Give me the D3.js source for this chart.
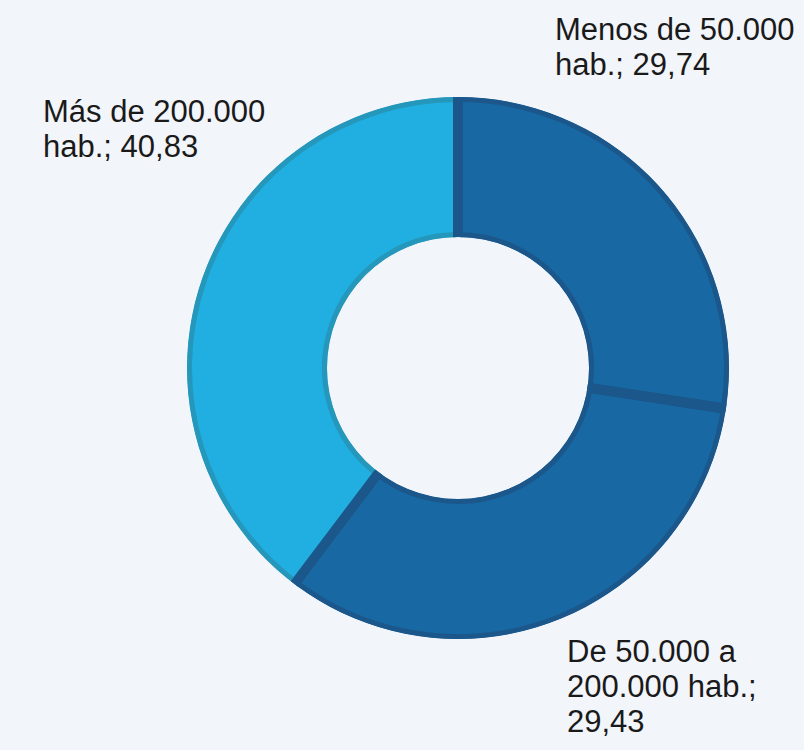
<!DOCTYPE html>
<html>
<head>
<meta charset="utf-8">
<script src="https://cdn.jsdelivr.net/npm/d3@7"></script>
<style>
  html, body { margin: 0; padding: 0; background: #f2f5fa; }
  svg { display: block; }
  text { font-family: "Liberation Sans", Arial, Helvetica, sans-serif; }
</style>
</head>
<body>
<svg id="chart" width="804" height="750"></svg>
<script>
// ---- data ----
const categories = ["Menos de 50.000 hab.", "De 50.000 a 200.000 hab.", "Más de 200.000 hab."];
const values = [29.74, 29.43, 40.83];            // values printed in the labels
const sliceShares = [27.4, 32.9, 39.7];          // slice sizes as drawn in the picture
const fillColors = ["#1868a4", "#1868a4", "#21aee0"];
const strokeColors = ["#1b578a", "#1b578a", "#2597ba"];

// ---- layout ----
const W = 804, H = 750;
const cx = 458, cy = 368, rOuter = 271, rInner = 131;
const labelPos = [
  { x: 555, y: 40 },
  { x: 567, y: 662 },
  { x: 43,  y: 122 }
];
const fontSize = 31, lineH = 35, wrapWidth = 255;

const svg = d3.select("#chart");
svg.append("rect").attr("width", W).attr("height", H).attr("fill", "#f2f5fa");

const pie = d3.pie().sort(null).value(d => d.share);
const data = categories.map((c, i) => ({ cat: c, value: values[i], share: sliceShares[i], i }));
const arcs = pie(data);
const arc = d3.arc().innerRadius(rInner).outerRadius(rOuter);

const defs = svg.append("defs");
defs.append("clipPath").attr("id", "ring")
  .append("path")
  .attr("transform", `translate(${cx},${cy})`)
  .attr("d", d3.arc().innerRadius(rInner).outerRadius(rOuter).startAngle(0).endAngle(2 * Math.PI)());

const g = svg.append("g").attr("clip-path", "url(#ring)")
  .append("g").attr("transform", `translate(${cx},${cy})`);

// fills
g.selectAll("path.fill").data(arcs).join("path")
  .attr("class", "fill")
  .attr("d", arc)
  .attr("fill", d => fillColors[d.data.i]);

// strokes: light slice first, dark slices on top
const order = arcs.slice().sort((a, b) => (a.data.i === 2 ? -1 : 0) - (b.data.i === 2 ? -1 : 0));
g.selectAll("path.stroke").data(order).join("path")
  .attr("class", "stroke")
  .attr("d", arc)
  .attr("fill", "none")
  .attr("stroke", d => strokeColors[d.data.i])
  .attr("stroke-width", 10)
  .attr("stroke-linejoin", "miter");

// labels
const fmt = v => v.toFixed(2).replace(".", ",");
arcs.forEach(d => {
  const txt = d.data.cat + "; " + fmt(d.data.value);
  const words = txt.split(" ");
  const p = labelPos[d.data.i];
  const t = svg.append("text")
    .attr("x", p.x).attr("y", p.y)
    .attr("font-size", fontSize)
    .attr("fill", "#1a1a1a");
  let lines = [];
  let cur = [];
  const probe = t.append("tspan");
  words.forEach(w => {
    const trial = cur.concat([w]).join(" ");
    probe.text(trial);
    if (probe.node().getComputedTextLength() > wrapWidth && cur.length) {
      lines.push(cur.join(" "));
      cur = [w];
    } else {
      cur.push(w);
    }
  });
  if (cur.length) lines.push(cur.join(" "));
  probe.remove();
  lines.forEach((l, k) => {
    t.append("tspan").attr("x", p.x).attr("y", p.y + k * lineH).text(l);
  });
});
</script>
</body>
</html>
